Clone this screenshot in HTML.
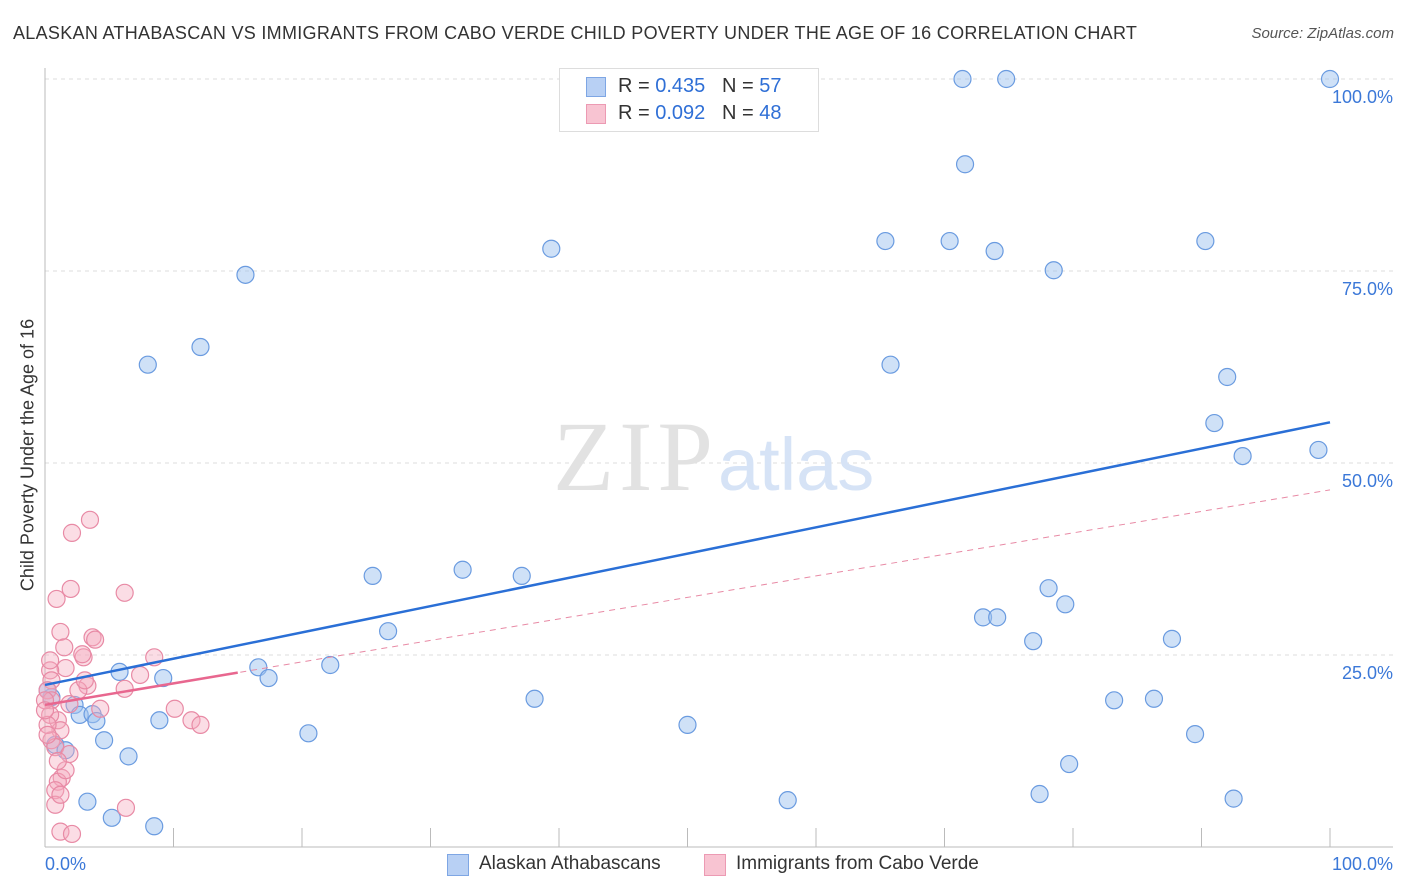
<!DOCTYPE html>
<html><head><meta charset="utf-8"><style>
body{margin:0;background:#fff;font-family:"Liberation Sans",sans-serif;}
#wrap{position:relative;width:1406px;height:892px;overflow:hidden;}
.t{position:absolute;white-space:nowrap;}
</style></head><body>
<div id="wrap">
<div class="t" style="left:13px;top:23px;font-size:18px;color:#333;letter-spacing:0.3px;">ALASKAN ATHABASCAN VS IMMIGRANTS FROM CABO VERDE CHILD POVERTY UNDER THE AGE OF 16 CORRELATION CHART</div>
<div class="t" style="right:12px;top:25px;font-size:15px;color:#555;font-style:italic;">Source: ZipAtlas.com</div>
<div class="t" style="left:28px;top:455px;font-size:18px;color:#333;transform:translate(-50%,-50%) rotate(-90deg);">Child Poverty Under the Age of 16</div>
<svg id="svg" width="1406" height="892" style="position:absolute;left:0;top:0"></svg>
<div style="position:absolute;left:559px;top:68px;width:258px;height:62px;border:1px solid #ddd;background:#fff;">
<div style="position:absolute;left:26px;top:8px;width:18px;height:18px;background:#b8d0f4;border:1px solid #7ea6e4;"></div>
<div class="t" style="left:58px;top:6px;font-size:20px;color:#333;">R = <span style="color:#2f6fd6">0.435</span>&nbsp;&nbsp;&nbsp;N = <span style="color:#2f6fd6">57</span></div>
<div style="position:absolute;left:26px;top:35px;width:18px;height:18px;background:#f8c4d2;border:1px solid #ec9ab3;"></div>
<div class="t" style="left:58px;top:33px;font-size:20px;color:#333;">R = <span style="color:#2f6fd6">0.092</span>&nbsp;&nbsp;&nbsp;N = <span style="color:#2f6fd6">48</span></div>
</div>
<div style="position:absolute;left:447px;top:854px;width:20px;height:20px;background:#b8d0f4;border:1px solid #7ea6e4;"></div>
<div class="t" style="left:479px;top:853px;font-size:19px;color:#333;">Alaskan Athabascans</div>
<div style="position:absolute;left:704px;top:854px;width:20px;height:20px;background:#f8c4d2;border:1px solid #ec9ab3;"></div>
<div class="t" style="left:736px;top:853px;font-size:19px;color:#333;">Immigrants from Cabo Verde</div>
</div>
<script>
const blueX=[71.4,74.8,100,71.6,65.4,70.4,73.9,90.3,78.5,39.4,15.6,12.1,8.0,65.8,92.0,91.0,93.2,99.1,25.5,32.5,37.1,78.1,79.4,73.0,74.1,26.7,76.9,87.7,16.6,22.2,5.8,9.2,17.4,38.1,83.2,86.3,8.9,50.0,20.5,89.5,4.6,6.5,79.7,57.8,77.4,92.5,3.3,5.2,8.5,0.5,2.3,2.7,3.7,4.0,0.8,1.6,0.2];
const blueY=[100,100,100,88.9,78.9,78.9,77.6,78.9,75.1,77.9,74.5,65.1,62.8,62.8,61.2,55.2,50.9,51.7,35.3,36.1,35.3,33.7,31.6,29.9,29.9,28.1,26.8,27.1,23.4,23.7,22.8,22.0,22.0,19.3,19.1,19.3,16.5,15.9,14.8,14.7,13.9,11.8,10.8,6.1,6.9,6.3,5.9,3.8,2.7,19.5,18.5,17.2,17.3,16.4,13.3,12.6,20.4];
const pinkX=[3.5,2.1,2.0,0.9,6.2,1.2,1.5,3.7,3.9,3.0,8.5,1.6,2.9,0.4,0.5,0.2,7.4,3.3,6.2,2.6,1.9,4.3,10.1,11.4,12.1,1.0,1.2,0.5,0.8,1.9,1.3,1.0,0.8,0.8,6.3,1.2,2.1,0.5,0.4,0.2,0,0.4,0,0.2,1.2,1.6,3.1,1.0];
const pinkY=[42.6,40.9,33.6,32.3,33.1,28.0,26.0,27.3,27.0,24.7,24.7,23.3,25.1,23.0,21.7,20.4,22.4,21.0,20.6,20.4,18.6,18.0,18.0,16.5,15.9,16.5,15.2,13.9,13.0,12.1,9.0,8.5,7.4,5.5,5.1,2.0,1.7,19.1,17.2,15.9,19.1,24.3,17.8,14.6,6.8,10.0,21.7,11.2];
const yTicks=[25,50,75,100];
const yTickLabels=["25.0%","50.0%","75.0%","100.0%"];
const xTicks=[10,20,30,40,50,60,70,80,90,100];
const blueTrend=[21.1,55.3];
const pinkTrend=[18.5,46.5];
const pinkSolidEnd=15;

const svg=document.getElementById('svg');
const NS='http://www.w3.org/2000/svg';
const sx=v=>45+v*12.85, sy=v=>847-v*7.68;
function mk(tag,attrs){const e=document.createElementNS(NS,tag);for(const k in attrs)e.setAttribute(k,attrs[k]);svg.appendChild(e);return e;}
yTicks.forEach((t,i)=>{
 const g=mk('line',{x1:45,x2:1393,y1:sy(t),y2:sy(t),stroke:'#dcdcdc','stroke-dasharray':'4,4'});
 
 
 const tx=mk('text',{x:1393,y:sy(t)+24,'text-anchor':'end','font-size':18,fill:'#3b78d8','font-family':'Liberation Sans'});
 tx.textContent=yTickLabels[i];
 
 
});
const ax=mk('line',{x1:45,x2:1393,y1:847,y2:847,stroke:'#bbb'});


const ay=mk('line',{x1:45,x2:45,y1:68,y2:847,stroke:'#bbb'});


xTicks.forEach(t=>{
 const l=mk('line',{x1:sx(t),x2:sx(t),y1:847,y2:828,stroke:'#bbb'});
 
 
});
const x0=mk('text',{x:45,y:870,'font-size':18,fill:'#3b78d8','font-family':'Liberation Sans'});x0.textContent='0.0%';


const x1=mk('text',{x:1393,y:870,'text-anchor':'end','font-size':18,fill:'#3b78d8','font-family':'Liberation Sans'});x1.textContent='100.0%';


const w1=mk('text',{x:553,y:490,'font-size':100,fill:'#e2e2e2','font-family':'Liberation Serif',textLength:160});w1.textContent='ZIP';


const w2=mk('text',{x:718,y:490,'font-size':74,fill:'#d6e3f6','font-family':'Liberation Sans'});w2.textContent='atlas';


blueX.forEach((x,i)=>{
 const c=mk('circle',{cx:sx(x),cy:sy(blueY[i]),r:8.5,fill:'rgba(160,195,240,0.5)',stroke:'#6a9be0','stroke-width':1.2});
 
 
});
pinkX.forEach((x,i)=>{
 const c=mk('circle',{cx:sx(x),cy:sy(pinkY[i]),r:8.5,fill:'rgba(245,170,190,0.4)',stroke:'#e88aa5','stroke-width':1.2});
 
 
});
const pd=mk('line',{x1:sx(0),y1:sy(pinkTrend[0]),x2:sx(100),y2:sy(pinkTrend[1]),stroke:'#e88aa5','stroke-width':1,'stroke-dasharray':'6,5'});


const pe=pinkTrend[0]+(pinkTrend[1]-pinkTrend[0])*pinkSolidEnd/100;
const ps=mk('line',{x1:sx(0),y1:sy(pinkTrend[0]),x2:sx(pinkSolidEnd),y2:sy(pe),stroke:'#e8678f','stroke-width':2.5});


const bt=mk('line',{x1:sx(0),y1:sy(blueTrend[0]),x2:sx(100),y2:sy(blueTrend[1]),stroke:'#2a6fd6','stroke-width':2.5});


</script>
</body></html>
